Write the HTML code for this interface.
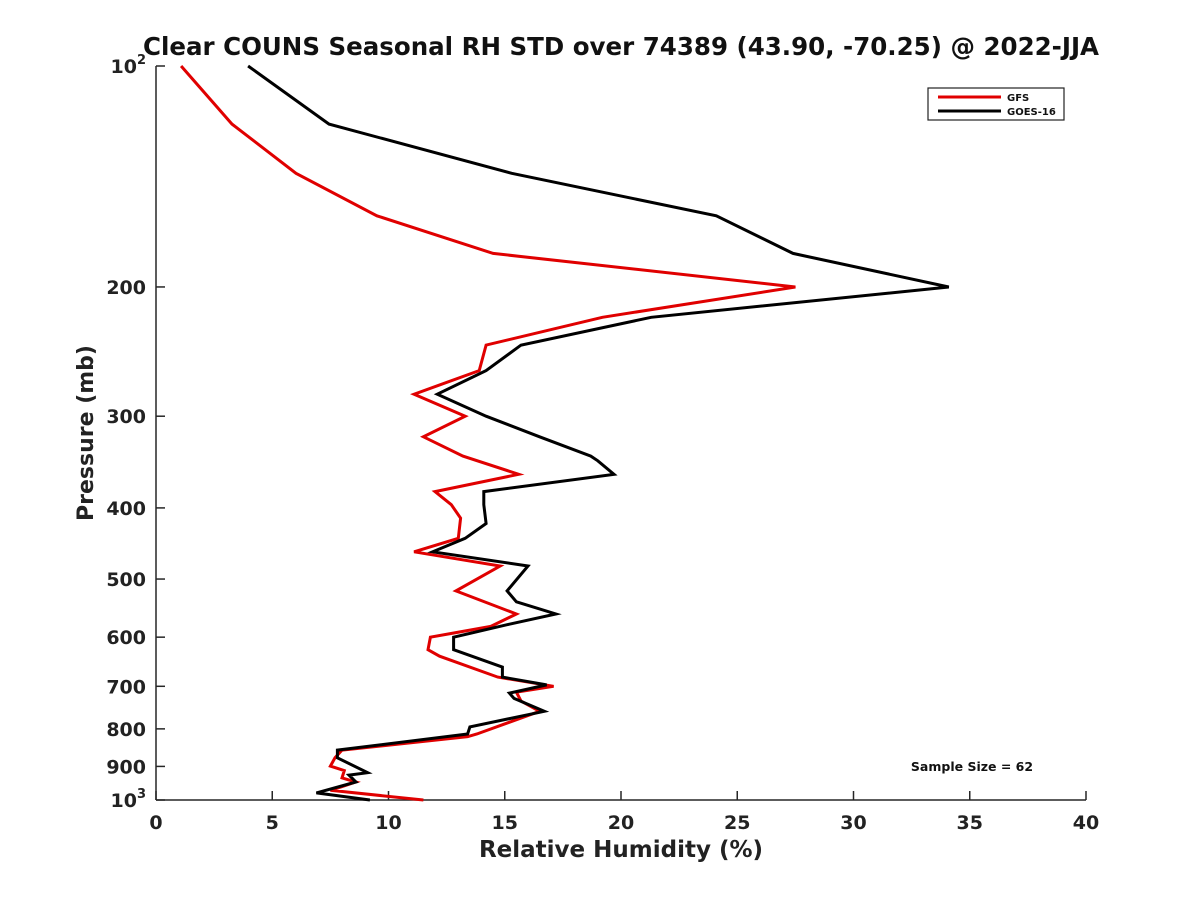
<!DOCTYPE html>
<html><head><meta charset="utf-8"><style>
body{margin:0;background:#fff}
svg{display:block;font-family:"DejaVu Sans","Liberation Sans",sans-serif;font-weight:bold}
</style></head><body>
<svg id="chart" width="1200" height="900" viewBox="0 0 1200 900">
<rect width="1200" height="900" fill="#fff"/>
<text x="621" y="55" text-anchor="middle" font-size="24.5" fill="#111">Clear COUNS Seasonal RH STD over 74389 (43.90, -70.25) @ 2022-JJA</text>
<g id="axes"></g>
<g id="series"></g>
<g>
<rect x="928" y="88" width="136" height="32" fill="#fff" stroke="#222" stroke-width="1.2"/>
<line x1="938" y1="97" x2="1001" y2="97" stroke="#e00000" stroke-width="3"/>
<text x="1007" y="101" font-size="10" fill="#111">GFS</text>
<line x1="938" y1="111" x2="1001" y2="111" stroke="#000" stroke-width="3"/>
<text x="1007" y="115" font-size="10" fill="#111">GOES-16</text>
</g>
<text x="972" y="771" text-anchor="middle" font-size="12.5" fill="#111">Sample Size = 62</text>
<text x="621" y="857" text-anchor="middle" font-size="23" fill="#222">Relative Humidity (%)</text>
<text transform="translate(93,433) rotate(-90)" text-anchor="middle" font-size="22" fill="#222">Pressure (mb)</text>
</svg>
<script>
const xTicks=[0,5,10,15,20,25,30,35,40];
const yTicks=[100,200,300,400,500,600,700,800,900,1000];
const gfsP=[100,120,140,160,180,200,220,240,260,280,300,320,340,360,380,396,413,440,459,480,519,558,580,600,624,637,680,700,713,733,757,813,820,855,876,899,912,933,945,966,970,1000];
const gfsV=[1.08,3.27,6.02,9.5,14.5,27.5,19.2,14.2,13.9,11.1,13.3,11.5,13.2,15.6,12.0,12.7,13.1,13.0,11.1,14.8,12.9,15.5,14.4,11.8,11.7,12.2,14.7,17.1,15.5,15.7,16.5,13.8,13.4,8.0,7.7,7.5,8.1,8.0,8.6,7.7,7.5,11.5];
const goesP=[100,120,140,160,180,200,220,240,260,280,300,320,340,345,360,380,396,420,440,459,480,519,537,558,577,600,624,659,680,697,715,727,757,795,813,855,876,918,925,945,978,1000];
const goesV=[3.96,7.44,15.3,24.1,27.4,34.1,21.3,15.7,14.2,12.1,14.2,16.5,18.7,19.0,19.7,14.1,14.1,14.2,13.3,11.9,16.0,15.1,15.5,17.2,15.1,12.8,12.8,14.9,14.9,16.8,15.2,15.4,16.7,13.5,13.4,7.8,7.8,9.1,8.3,8.6,6.9,9.2];
const X0=156,X1=1086,Y0=66,Y1=800;
const xs=v=>X0+(v-0)/(40-0)*(X1-X0);
const ys=p=>Y0+(Math.log10(p)-2)*(Y1-Y0);
const NS="http://www.w3.org/2000/svg";
function mk(t,a,parent){const e=document.createElementNS(NS,t);for(const k in a)e.setAttribute(k,a[k]);parent.appendChild(e);return e;}
const ax=document.getElementById('axes');
let l=mk('line',{x1:X0,y1:Y0,x2:X0,y2:Y1,stroke:'#262626','stroke-width':1.5},ax);


l=mk('line',{x1:X0,y1:Y1,x2:X1,y2:Y1,stroke:'#262626','stroke-width':1.5},ax);


xTicks.forEach(v=>{
  const t=mk('line',{x1:xs(v),y1:Y1,x2:xs(v),y2:Y1-9,stroke:'#262626','stroke-width':1.5},ax);
  
  
  const tx=mk('text',{x:xs(v),y:Y1+29,'text-anchor':'middle','font-size':19,fill:'#222'},ax);
  tx.textContent=v;
  
  
});
yTicks.forEach(p=>{
  const t=mk('line',{x1:X0,y1:ys(p),x2:X0+9,y2:ys(p),stroke:'#262626','stroke-width':1.5},ax);
  
  
  const tx=mk('text',{x:X0-10,y:ys(p)+7,'text-anchor':'end','font-size':19,fill:'#222'},ax);
  if(p===100||p===1000){tx.textContent='10';const s=mk('tspan',{dy:-9,'font-size':13},tx);s.textContent=p===100?'2':'3';}
  else tx.textContent=p;
  
  
});
const sg=document.getElementById('series');
function draw(P,V,col,name){
  const pts=P.map((p,i)=>xs(V[i]).toFixed(1)+','+ys(p).toFixed(1)).join(' ');
  const e=mk('polyline',{points:pts,fill:'none',stroke:col,'stroke-width':3,'stroke-linejoin':'miter'},sg);
  
  
}
draw(gfsP,gfsV,'#e00000','gfs-line');
draw(goesP,goesV,'#000','goes16-line');
</script>
</body></html>
